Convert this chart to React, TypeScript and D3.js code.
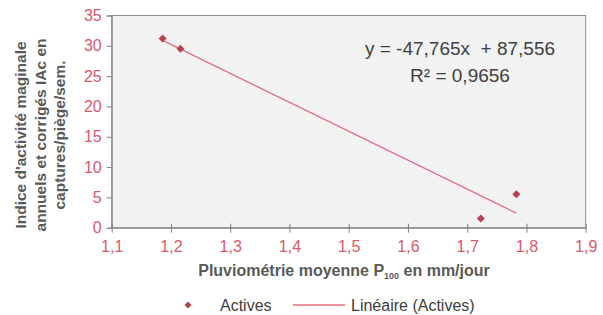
import React, { useEffect, useRef } from 'react';
import * as d3 from 'd3';

// Data
const rainfall = [1.186, 1.216, 1.723, 1.783];
const activity = [31.2, 29.5, 1.5, 5.5];
const slope = -47.765;
const intercept = 87.556;
const xTicks = [1.1, 1.2, 1.3, 1.4, 1.5, 1.6, 1.7, 1.8, 1.9];
const yTicks = [0, 5, 10, 15, 20, 25, 30, 35];
const yTitleLines = ["Indice d'activité maginale", 'annuels et corrigés IAc en', 'captures/piège/sem.'];

const W = 603;
const H = 315;
const FONT = "'Liberation Sans', Arial, sans-serif";

const App: React.FC = () => {
    const ref = useRef<SVGSVGElement>(null);

    useEffect(() => {
        if (!ref.current) return;
        const svg = d3.select(ref.current);
        svg.selectAll('*').remove();

        const left = 111.7, right = 585.7, top = 15.5, bottom = 227.7;
        const x = d3.scaleLinear().domain([1.1, 1.9]).range([left, right]);
        const y = d3.scaleLinear().domain([0, 35]).range([bottom, top]);
        const comma = (v: number) => d3.format('.1f')(v).replace('.', ',');

        // Plot area
        svg.append('rect')
            .attr('x', left).attr('y', top)
            .attr('width', right - left).attr('height', bottom - top)
            .attr('fill', '#f2f2f2')
            .attr('stroke', '#8c8c8c')
            .attr('stroke-width', 1);

        // Y axis
        const yAxis = svg.append('g')
            .attr('transform', `translate(${left},0)`)
            .call(d3.axisLeft(y).tickValues(yTicks).tickSize(5).tickPadding(5).tickFormat(d => String(d)));
        yAxis.select('.domain').attr('stroke', '#808080');
        yAxis.selectAll('.tick line').attr('stroke', '#808080');
        yAxis.selectAll('.tick text')
            .attr('fill', '#d65a6a').style('font-family', FONT).style('font-size', '16px');

        // X axis
        const xAxis = svg.append('g')
            .attr('transform', `translate(0,${bottom})`)
            .call(d3.axisBottom(x).tickValues(xTicks).tickSizeInner(5).tickSizeOuter(0).tickPadding(8).tickFormat(d => comma(d as number)));
        xAxis.select('.domain').attr('stroke', '#808080');
        xAxis.selectAll('.tick line').attr('stroke', '#808080').attr('y1', -4);
        xAxis.selectAll('.tick text')
            .attr('fill', '#d65a6a').style('font-family', FONT).style('font-size', '16px');

        // Trend line
        const xMin = d3.min(rainfall) || 0;
        const xMax = d3.max(rainfall) || 0;
        svg.append('line')
            .attr('x1', x(xMin)).attr('y1', y(slope * xMin + intercept))
            .attr('x2', x(xMax)).attr('y2', y(slope * xMax + intercept))
            .attr('stroke', '#e0707e')
            .attr('stroke-width', 1.3);

        // Points (square turned 45deg)
        const marker = d3.symbol().type(d3.symbolSquare).size(32);
        svg.selectAll('.pt')
            .data(rainfall)
            .enter()
            .append('path')
            .attr('class', 'pt')
            .attr('d', marker)
            .attr('transform', (d, i) => `translate(${x(d)},${y(activity[i])}) rotate(45)`)
            .attr('fill', '#b8404f');

        // Equation
        const eq = svg.append('g').style('font-family', FONT).style('font-size', '19px').attr('fill', '#404040');
        eq.append('text')
            .attr('x', 460).attr('y', 55)
            .attr('text-anchor', 'middle')
            .style('white-space', 'pre')
            .text('y = -47,765x  + 87,556');
        eq.append('text')
            .attr('x', 460).attr('y', 82)
            .attr('text-anchor', 'middle')
            .text('R² = 0,9656');

        // Y title
        const yt = svg.append('text')
            .attr('transform', 'translate(0,135) rotate(-90)')
            .attr('text-anchor', 'middle')
            .style('font-family', FONT).style('font-size', '15.5px').style('font-weight', 'bold')
            .attr('fill', '#595959');
        yTitleLines.forEach((line, i) => {
            yt.append('tspan').attr('x', 0).attr('y', 26 + i * 19.5).text(line);
        });

        // X title
        const xt = svg.append('text')
            .attr('x', 344).attr('y', 276)
            .attr('text-anchor', 'middle')
            .style('font-family', FONT).style('font-size', '16px').style('font-weight', 'bold')
            .attr('fill', '#595959');
        xt.append('tspan').text('Pluviométrie moyenne P');
        xt.append('tspan').style('font-size', '9px').attr('dy', 3).text('100');
        xt.append('tspan').attr('dy', -3).text(' en mm/jour');

        // Legend
        svg.append('path')
            .attr('d', d3.symbol().type(d3.symbolSquare).size(24))
            .attr('transform', 'translate(188,305) rotate(45)')
            .attr('fill', '#b8404f');
        svg.append('text')
            .attr('x', 220).attr('y', 311)
            .style('font-family', FONT).style('font-size', '16px')
            .attr('fill', '#404040')
            .text('Actives');
        svg.append('line')
            .attr('x1', 293).attr('x2', 345).attr('y1', 305).attr('y2', 305)
            .attr('stroke', '#e0707e').attr('stroke-width', 1.3);
        svg.append('text')
            .attr('x', 351).attr('y', 311)
            .style('font-family', FONT).style('font-size', '16px')
            .attr('fill', '#404040')
            .text('Linéaire (Actives)');
    }, []);

    return (
        <div style={{ position: 'absolute', left: 0, top: 0 }}>
            <svg ref={ref} width={W} height={H} style={{ display: 'block', background: '#fff' }} />
        </div>
    );
};

export default App;
